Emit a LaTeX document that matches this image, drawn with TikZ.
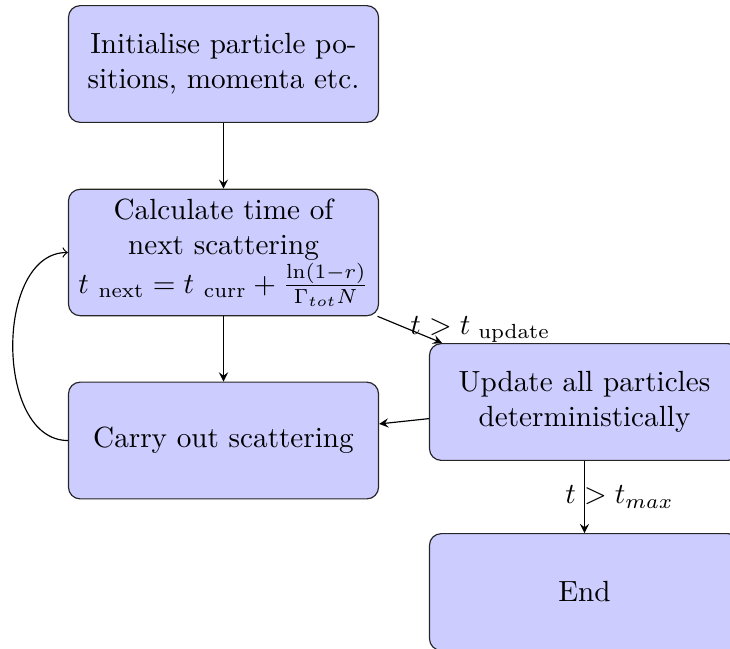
\documentclass[tikz,border=0pt]{standalone}
\usepackage{amsmath}
\begin{document}
\begin{tikzpicture}[x=0.3427pt,y=-0.3427pt,
  box/.style={draw=black!85, fill=blue!20, rounded corners, text width=3.5cm, align=center, minimum height=4em},
  arr/.style={-stealth}]
\useasboundingbox (0,0) rectangle (730,648);
\node[box] (init) at (223.5,64) {Initialise particle po-\\sitions, momenta etc.};
\node[box] (calc) at (223.5,252.5) {Calculate time of\\next scattering\\$t_{\text{ next}} = t_{\text{ curr}} + \frac{\ln(1-r)}{\Gamma_{tot}N}$};
\node[box] (carry) at (223.5,440.5) {Carry out scattering};
\node[box] (update) at (584.5,402) {Update all particles\\deterministically};
\node[box] (end) at (584.5,592) {End};
\draw[arr] (init) -- (calc);
\draw[arr] (calc) -- (carry);
\draw[arr] (calc) -- node[pos=0.5, anchor=west, inner sep=0pt] {$t > t_{\text{ update}}$} (update);
\draw[arr] (update) -- (carry);
\draw[arr] (update) -- node[pos=0.5, xshift=35*0.3427pt] {$t > t_{max}$} (end);
\draw[->] (carry.west) to[out=180,in=180] (calc.west);
\end{tikzpicture}
\end{document}
